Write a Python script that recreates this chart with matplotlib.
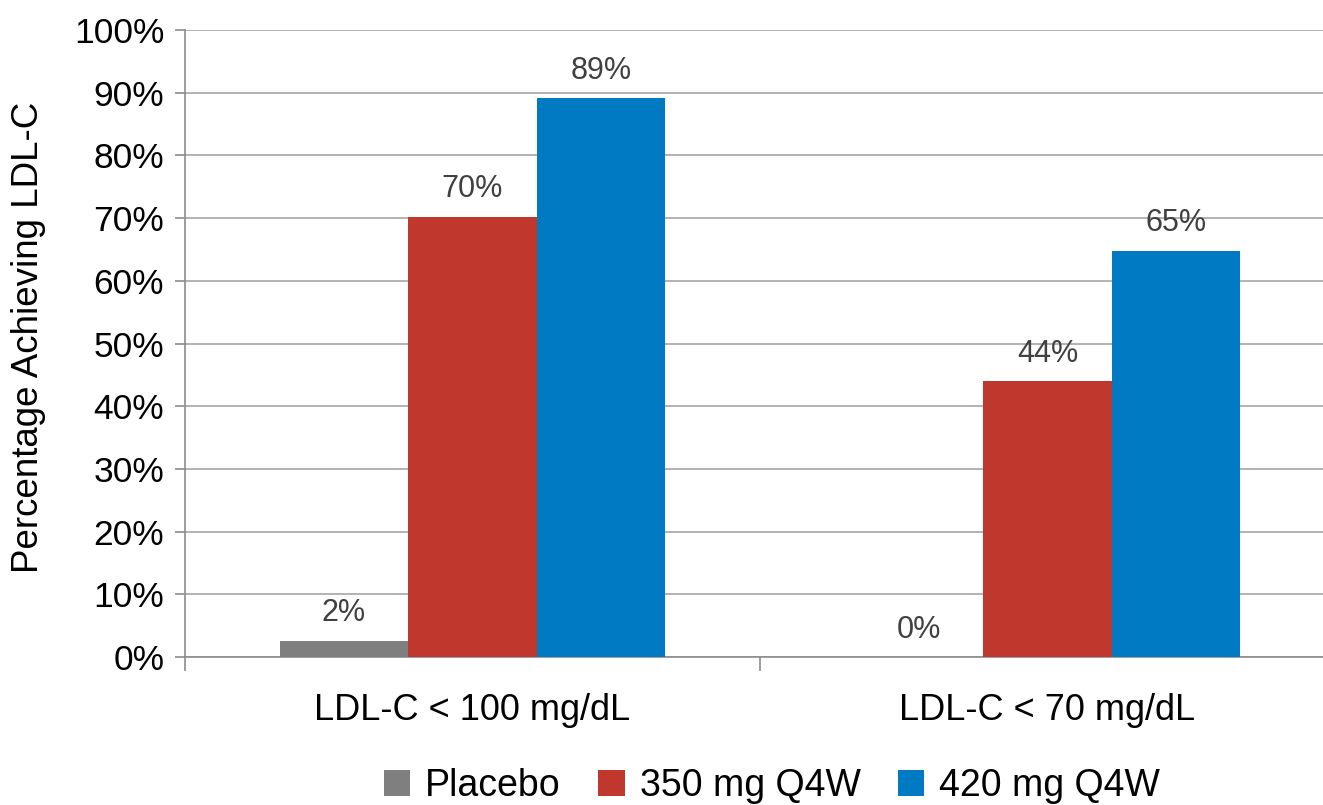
import matplotlib
matplotlib.use("Agg")
import matplotlib.pyplot as plt
from matplotlib.patches import Patch
import numpy as np

plt.rcParams['font.family'] = ['Liberation Sans', 'DejaVu Sans']

categories = ["LDL-C < 100 mg/dL", "LDL-C < 70 mg/dL"]
series = ["Placebo", "350 mg Q4W", "420 mg Q4W"]
placebo = [2.6, 0.0]
dose350 = [70.2, 44.0]
dose420 = [89.1, 64.8]
labels = [["2%", "0%"], ["70%", "44%"], ["89%", "65%"]]
colors = ["#7F7F7F", "#C0372D", "#007BC3"]
yticks = list(range(0, 101, 10))

fig = plt.figure(figsize=(13.23, 8.05), dpi=100)
ax = fig.add_axes([185/1323, 1 - 657/805, 1150/1323, (657 - 30)/805])

x = np.arange(len(categories))
w = 0.2235
values = [placebo, dose350, dose420]
for i, (vals, col) in enumerate(zip(values, colors)):
    pos = x + (i - 1) * w
    ax.bar(pos, vals, width=w, color=col, zorder=3)
    for p, v, lab in zip(pos, vals, labels[i]):
        ax.annotate(lab, (p, v), xytext=(0, 9), textcoords="offset points",
                    ha="center", va="bottom", fontsize=22, color="#404040", zorder=4)

ax.set_xlim(-0.5, 1.5)
ax.set_ylim(0, 100)
ax.set_yticks(yticks)
ax.set_yticklabels([f"{t}%" for t in yticks], fontsize=25.5)
ax.yaxis.grid(True, color="#A6A6A6", linewidth=1.2, zorder=0)
ax.set_axisbelow(True)

ax.set_xticks(x)
ax.set_xticklabels(categories, fontsize=26)
ax.tick_params(axis="x", which="major", length=0, pad=26)
ax.set_xticks([-0.5, 0.5, 1.5], minor=True)
ax.tick_params(axis="x", which="minor", length=10, width=1.2, color="#8C8C8C", direction="out")
ax.tick_params(axis="y", which="major", length=7, width=1.2, color="#8C8C8C", pad=8)

for s in ["top", "right"]:
    ax.spines[s].set_visible(False)
for s in ["left", "bottom"]:
    ax.spines[s].set_color("#8C8C8C")
    ax.spines[s].set_linewidth(1.2)

ax.set_ylabel("Percentage Achieving LDL-C", fontsize=26.5)
ax.yaxis.set_label_coords(-0.121, 0.51)

handles = [Patch(facecolor=c, edgecolor="none") for c in colors]
fig.legend(handles, series, loc="center", bbox_to_anchor=(772/1323, 1 - 786/805),
           ncol=3, frameon=False, fontsize=27, handlelength=0.7, handleheight=0.7,
           handletextpad=0.4, columnspacing=1.0)

fig.savefig("out.png", dpi=100)
